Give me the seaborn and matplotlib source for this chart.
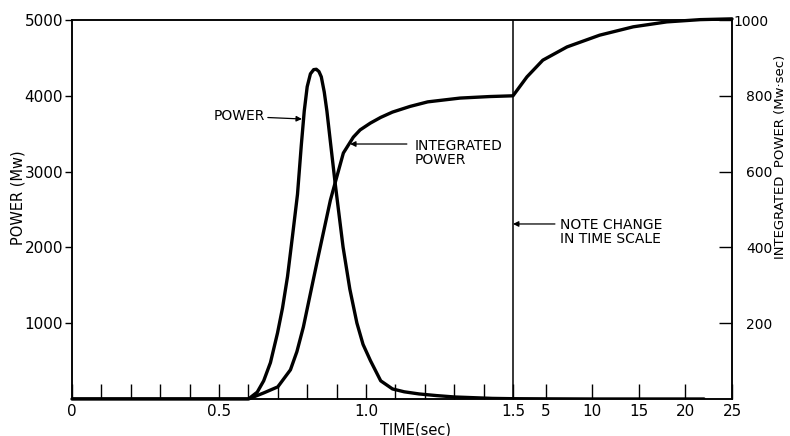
import numpy as np
import matplotlib
matplotlib.use("Agg")
import matplotlib.pyplot as plt
import seaborn as sns

# Reactor power excursion: instantaneous power (MW) against time (s)
power_time = [0.0, 0.30, 0.60, 0.63, 0.652, 0.675, 0.699, 0.716, 0.733, 0.750,
              0.767, 0.780, 0.790, 0.800, 0.811, 0.822, 0.831, 0.840, 0.848,
              0.858, 0.867, 0.879, 0.895, 0.922, 0.945, 0.969, 0.990, 1.015,
              1.05, 1.09, 1.13, 1.18, 1.24, 1.30, 1.43, 1.50, 5.0, 10.0, 15.0,
              20.0, 22.0]
power_mw = [0, 0, 0, 90, 240, 480, 870, 1200, 1613, 2150,
            2700, 3350, 3800, 4120, 4290, 4345, 4350, 4320, 4250,
            4050, 3800, 3390, 2850, 2005, 1450, 1003, 720, 507,
            240, 133, 95, 67, 45, 27, 8, 4, 2, 0, 0,
            0, 0]

# Integrated power (MW·s) against time (s)
energy_time = [0.0, 0.30, 0.60, 0.652, 0.70, 0.743, 0.765, 0.787, 0.810, 0.835,
               0.879, 0.896, 0.923, 0.957, 0.98, 1.015, 1.05, 1.09, 1.15, 1.21,
               1.32, 1.42, 1.50, 3.0, 4.7, 7.3, 10.8, 14.4, 18.0, 21.6, 25.0]
energy_mws = [0, 0, 0, 16, 32, 77, 125, 190, 275, 367,
              525, 573, 649, 691, 710, 728, 743, 757, 772, 784,
              794, 798, 800, 850, 894, 929, 960, 982, 995, 1001, 1003]

time_ticks = [0, 0.5, 1.0, 1.5, 5, 10, 15, 20, 25]
time_tick_labels = ["0", "0.5", "1.0", "1.5", "5", "10", "15", "20", "25"]
time_minor = [0.1, 0.2, 0.3, 0.4, 0.6, 0.7, 0.8, 0.9, 1.1, 1.2, 1.3, 1.4]
power_ticks = [1000, 2000, 3000, 4000, 5000]
energy_ticks = [200, 400, 600, 800, 1000]

# Time axis is linear up to 1.5 s, then compressed for the slow tail
BREAK = 1.5
SLOW = 0.0317


def fwd(t):
    t = np.asarray(t, dtype=float)
    return np.where(t <= BREAK, t, BREAK + (t - BREAK) * SLOW)


def inv(u):
    u = np.asarray(u, dtype=float)
    return np.where(u <= BREAK, u, BREAK + (u - BREAK) / SLOW)


sns.set_style("ticks")
plt.rcParams.update({
    "font.family": ["DejaVu Sans"],
    "axes.linewidth": 1.1,
    "text.color": "black",
    "axes.labelcolor": "black",
    "axes.edgecolor": "black",
    "xtick.color": "black",
    "ytick.color": "black",
})

fig = plt.figure(figsize=(7.9, 4.36), dpi=100)
ax = fig.add_axes([72 / 790, 1 - 399 / 436, 660 / 790, 379 / 436])
ax.set_xscale("function", functions=(fwd, inv))

sns.lineplot(x=power_time, y=power_mw, ax=ax, color="black", linewidth=2.4,
             sort=False, estimator=None)
ax2 = ax.twinx()
sns.lineplot(x=energy_time, y=energy_mws, ax=ax2, color="black", linewidth=2.4,
             sort=False, estimator=None)
for line in ax.get_lines() + ax2.get_lines():
    line.set_solid_joinstyle("round")
for line in ax2.get_lines():
    line.set_clip_on(False)

ax.set_xlim(0, 25)
ax.set_ylim(0, 5000)
ax2.set_ylim(0, 1000)

# marker of the change in time scale
ax.axvline(BREAK, color="black", linewidth=1.1)

ax.set_xticks(time_ticks, time_tick_labels)
ax.set_xticks(time_minor, minor=True)
ax.tick_params(axis="x", which="both", direction="in", length=10.5, width=1,
               pad=3.5, labelsize=11, top=False)
ax.set_yticks(power_ticks)
ax.tick_params(axis="y", direction="out", length=5, width=1, pad=1.5,
               labelsize=11)
ax2.set_yticks(energy_ticks)
ax2.tick_params(axis="y", direction="in", length=9.5, width=1, pad=10,
                labelsize=10)
ax2.yaxis.get_major_ticks()[-1].set_pad(1)

for spine in ax.spines.values():
    spine.set_visible(True)
    spine.set_linewidth(1.1)

ax.set_xlabel("TIME(sec)", fontsize=10.5)
ax.xaxis.set_label_coords(0.521, -0.062)
ax.set_ylabel("POWER (Mw)", fontsize=10.5)
ax.yaxis.label.set_va("center")
ax.yaxis.set_label_coords(-0.082, 0.53)
ax2.set_ylabel("INTEGRATED  POWER (Mw·sec)", fontsize=9.5)
ax2.yaxis.label.set_va("center")
ax2.yaxis.set_label_coords(1.074, 0.64)

arrow = dict(arrowstyle="-|>", color="black", lw=0.9, mutation_scale=8,
             shrinkA=0, shrinkB=0)
ax.annotate("POWER", xy=(0.782, 3694), xytext=(0.655, 3730),
            ha="right", va="center", fontsize=10, arrowprops=arrow)
ax.annotate("", xy=(0.946, 3364), xytext=(1.139, 3364), arrowprops=arrow)
ax.text(1.165, 3430, "INTEGRATED\nPOWER", ha="left", va="top", fontsize=10,
        linespacing=1.0)
ax.annotate("", xy=(1.5, 2309), xytext=(6.0, 2309), arrowprops=arrow)
ax.text(6.5, 2390, "NOTE CHANGE\nIN TIME SCALE", ha="left", va="top",
        fontsize=10, linespacing=1.0)

fig.savefig("out.png", dpi=100)
